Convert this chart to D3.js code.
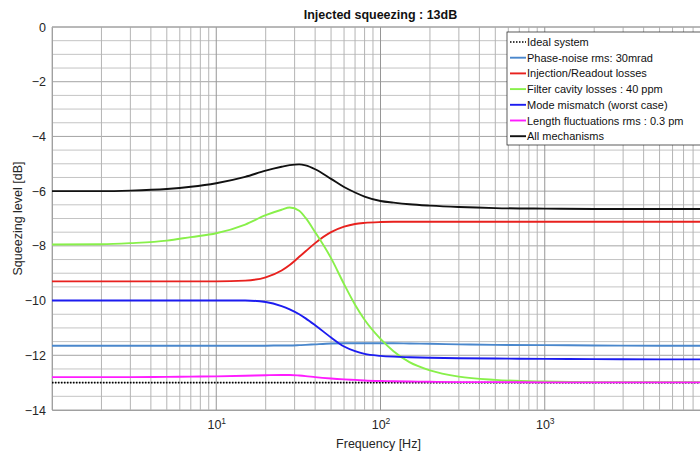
<!DOCTYPE html>
<html>
<head>
<meta charset="utf-8">
<script src="https://cdn.jsdelivr.net/npm/d3@7"></script>
<style>
  body { margin: 0; background: #fff; }
  svg { font-family: "Liberation Sans", Arial, sans-serif; }
</style>
</head>
<body>
<div id="chart"></div>
<script>
// frequency grid shared by all curves (Hz)
var freqs = [1, 2, 3, 5, 7, 10, 15, 20, 25, 28, 32, 35, 40, 50, 60, 70, 80, 100, 120, 150, 200, 300, 500, 1000, 2000, 5000, 10000];

var ideal      = [-13, -13, -13, -13, -13, -13, -13, -13, -13, -13, -13, -13, -13, -13, -13, -13, -13, -13, -13, -13, -13, -13, -13, -13, -13, -13, -13];
var phaseNoise = [-11.65, -11.65, -11.65, -11.65, -11.65, -11.65, -11.65, -11.65, -11.64, -11.64, -11.63, -11.62, -11.6, -11.57, -11.56, -11.56, -11.56, -11.56, -11.56, -11.57, -11.58, -11.6, -11.62, -11.63, -11.64, -11.65, -11.65];
var injection  = [-9.3, -9.3, -9.3, -9.3, -9.3, -9.3, -9.27, -9.15, -8.9, -8.7, -8.4, -8.2, -7.9, -7.5, -7.3, -7.2, -7.16, -7.13, -7.12, -7.12, -7.12, -7.12, -7.12, -7.12, -7.12, -7.12, -7.12];
var filterCav  = [-7.95, -7.94, -7.9, -7.81, -7.68, -7.54, -7.22, -6.88, -6.68, -6.6, -6.72, -6.98, -7.5, -8.45, -9.4, -10.15, -10.7, -11.4, -11.85, -12.25, -12.55, -12.78, -12.9, -12.96, -12.98, -12.98, -12.98];
var mismatch   = [-10, -10, -10, -10, -10, -10, -10, -10.05, -10.2, -10.32, -10.5, -10.65, -10.9, -11.35, -11.68, -11.85, -11.95, -12.02, -12.05, -12.07, -12.09, -12.11, -12.12, -12.13, -12.14, -12.15, -12.15];
var lengthFl   = [-12.8, -12.8, -12.8, -12.79, -12.78, -12.77, -12.75, -12.73, -12.72, -12.72, -12.74, -12.76, -12.8, -12.85, -12.88, -12.9, -12.92, -12.94, -12.95, -12.96, -12.97, -12.98, -12.98, -12.99, -12.99, -12.99, -12.99];
var allMech    = [-6, -6, -5.98, -5.92, -5.84, -5.71, -5.48, -5.25, -5.11, -5.05, -5.02, -5.06, -5.2, -5.55, -5.85, -6.05, -6.2, -6.36, -6.42, -6.48, -6.53, -6.58, -6.62, -6.64, -6.65, -6.65, -6.65];

var seriesNames = ['Ideal system', 'Phase-noise rms: 30mrad', 'Injection/Readout losses',
  'Filter cavity losses : 40 ppm', 'Mode mismatch (worst case)', 'Length fluctuations rms : 0.3 pm', 'All mechanisms'];
var seriesValues = [ideal, phaseNoise, injection, filterCav, mismatch, lengthFl, allMech];
var seriesColors = ['#000000', '#4a87cc', '#e8211e', '#88f04a', '#1c1cf0', '#ff1cff', '#111111'];

var yTicks = [0, -2, -4, -6, -8, -10, -12, -14];
var xTicks = [10, 100, 1000];

var svg = d3.select('#chart').append('svg')
  .attr('width', 700)
  .attr('height', 455);

var margin = { top: 27, left: 52 };
var width = 657;
var height = 383;

var g = svg.append('g')
  .attr('transform', 'translate(' + margin.left + ',' + margin.top + ')');

var x = d3.scaleLog().domain([1, 10000]).range([0, width]);
var y = d3.scaleLinear().domain([-14, 0]).range([height, 0]);

// minor + major grid
var yMinor = d3.range(-14, 0.01, 0.5);
g.append('g')
  .selectAll('line')
  .data(yMinor)
  .enter().append('line')
    .attr('x1', 0)
    .attr('x2', width)
    .attr('y1', function(d) { return y(d); })
    .attr('y2', function(d) { return y(d); })
    .attr('stroke', function(d) { return d % 2 === 0 ? '#a4a4a4' : '#c4c4c4'; })
    .attr('stroke-width', 1);

g.append('g')
  .selectAll('line')
  .data(x.ticks())
  .enter().append('line')
    .attr('x1', function(d) { return x(d); })
    .attr('x2', function(d) { return x(d); })
    .attr('y1', 0)
    .attr('y2', height)
    .attr('stroke', function(d) { return xTicks.indexOf(d) >= 0 ? '#969696' : '#b4b4b4'; })
    .attr('stroke-width', 1);

// axes
var xAxis = g.append('g')
  .attr('transform', 'translate(0,' + height + ')')
  .call(d3.axisBottom(x).tickValues(xTicks).tickSize(0).tickPadding(10).tickFormat(''));
xAxis.select('.domain').attr('stroke', '#a0a0a0');

xAxis.selectAll('.tick text')
  .attr('fill', '#262626')
  .attr('font-size', 12.5)
  .each(function(d) {
    var t = d3.select(this);
    t.append('tspan').text('10');
    t.append('tspan').text(Math.round(Math.log10(d)))
      .attr('font-size', 8.5)
      .attr('dy', '-0.55em');
  });

var yAxis = g.append('g')
  .call(d3.axisLeft(y).tickValues(yTicks).tickSize(0).tickPadding(6).tickFormat(d3.format('d')));
yAxis.select('.domain').attr('stroke', '#a0a0a0');
yAxis.selectAll('.tick text')
  .attr('fill', '#262626')
  .attr('font-size', 12.5);

g.append('line')
  .attr('x1', 0).attr('x2', width)
  .attr('y1', 0).attr('y2', 0)
  .attr('stroke', '#a0a0a0');

// curves
var line = d3.line()
  .x(function(d) { return x(d[0]); })
  .y(function(d) { return y(d[1]); })
  .curve(d3.curveMonotoneX);

seriesValues.forEach(function(vals, i) {
  var pts = freqs.map(function(f, j) { return [f, vals[j]]; });
  g.append('path')
    .datum(pts)
    .attr('fill', 'none')
    .attr('stroke', seriesColors[i])
    .attr('stroke-width', i === 0 ? 1.6 : 1.9)
    .attr('stroke-dasharray', i === 0 ? '1.5,1.5' : null)
    .attr('d', line);
});

// title and labels
svg.append('text')
  .attr('x', margin.left + width / 2)
  .attr('y', 19)
  .attr('text-anchor', 'middle')
  .attr('font-size', 12.5)
  .attr('font-weight', 'bold')
  .attr('fill', '#111')
  .text('Injected squeezing : 13dB');

svg.append('text')
  .attr('x', margin.left + width / 2 - 2)
  .attr('y', 448)
  .attr('text-anchor', 'middle')
  .attr('font-size', 12.5)
  .attr('fill', '#262626')
  .text('Frequency [Hz]');

svg.append('text')
  .attr('transform', 'translate(22,' + (margin.top + height / 2) + ') rotate(-90)')
  .attr('text-anchor', 'middle')
  .attr('font-size', 12.5)
  .attr('fill', '#262626')
  .text('Squeezing level [dB]');

// legend
var legend = svg.append('g').attr('transform', 'translate(507,32)');
legend.append('rect')
  .attr('width', 200)
  .attr('height', 113)
  .attr('fill', '#fff')
  .attr('stroke', '#333')
  .attr('stroke-width', 0.8);

seriesNames.forEach(function(name, i) {
  var yy = 10 + i * 15.7;
  legend.append('line')
    .attr('x1', 3).attr('x2', 19)
    .attr('y1', yy).attr('y2', yy)
    .attr('stroke', seriesColors[i])
    .attr('stroke-width', i === 0 ? 1.6 : 1.9)
    .attr('stroke-dasharray', i === 0 ? '1.5,1.5' : null);
  legend.append('text')
    .attr('x', 20)
    .attr('y', yy + 4)
    .attr('font-size', 11)
    .attr('fill', '#111')
    .text(name);
});
</script>
</body>
</html>
